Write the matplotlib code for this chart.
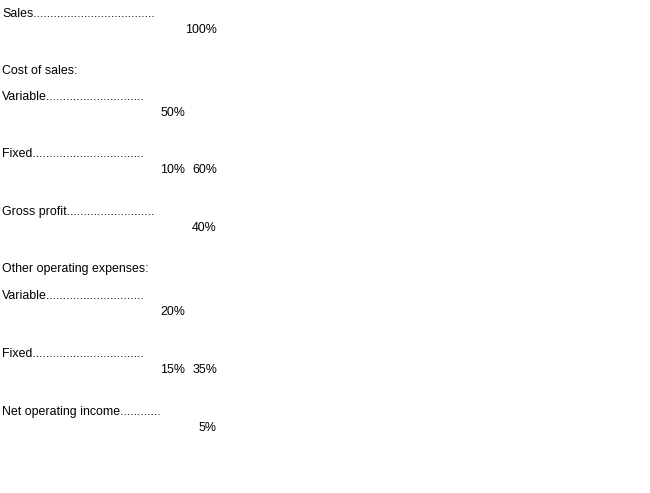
import matplotlib
matplotlib.use("Agg")
import matplotlib.pyplot as plt

plt.rcParams['font.family'] = ['Liberation Sans', 'DejaVu Sans']

# Row labels (with leader dots), and values in two columns
labels = [
    "Sales" + "." * 36,
    "Cost of sales:",
    "Variable" + "." * 29,
    "Fixed" + "." * 33,
    "Gross profit" + "." * 26,
    "Other operating expenses:",
    "Variable" + "." * 29,
    "Fixed" + "." * 33,
    "Net operating income" + "." * 12,
]
col1_values = [None, None, "50%", "10%", None, None, "20%", "15%", None]
col2_values = ["100%", None, None, "60%", "40%", None, None, "35%", "5%"]

# layout (pixel baselines)
label_y = [17, 74, 100, 157, 215, 272, 299, 357, 415]
value_dy = 16
col1_x = 185
col2_x = 217
fs = 8.9

fig = plt.figure(figsize=(6.5, 4.93), dpi=100)
ax = fig.add_axes([0, 0, 1, 1])
ax.set_xlim(0, 650)
ax.set_ylim(493, 0)
ax.axis('off')

for lab, y, v1, v2 in zip(labels, label_y, col1_values, col2_values):
    ax.text(2, y, lab, fontsize=fs, ha='left', va='baseline', color='black')
    if v1 is not None:
        ax.text(col1_x, y + value_dy, v1, fontsize=fs, ha='right', va='baseline', color='black')
    if v2 is not None:
        ax.text(col2_x, y + value_dy, v2, fontsize=fs, ha='right', va='baseline', color='black')

fig.savefig("out.png", dpi=100, facecolor='white')
